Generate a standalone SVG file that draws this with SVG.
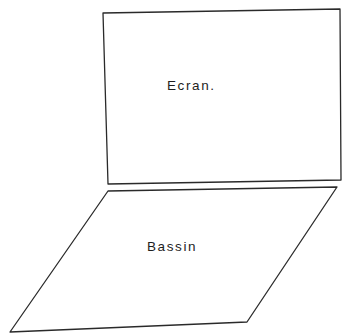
<svg xmlns="http://www.w3.org/2000/svg" width="342" height="334" viewBox="0 0 342 334">
<style>
.shape{fill:none;stroke:#2a2a2a;stroke-width:1.3;stroke-linejoin:round}
.lbl{font-family:"Liberation Sans",Arial,sans-serif;font-size:13.5px;fill:#1e1e1e;letter-spacing:1.6px}
</style>
<rect width="342" height="334" fill="#ffffff"/>
<g id="ecran">
<path class="shape" d="M103,13 L340,9 L341,180 L108,184 Z"/>
<text class="lbl" x="167" y="90">Ecran.</text>
</g>
<g id="bassin">
<path class="shape" d="M108,191 L337,187 L247,322 L10,332 Z"/>
<text class="lbl" x="147" y="251">Bassin</text>
</g>
<g id="connectors"></g>
</svg>
